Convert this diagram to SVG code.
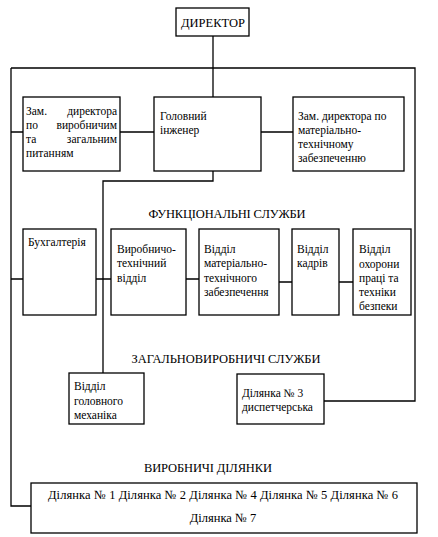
<svg xmlns="http://www.w3.org/2000/svg" width="438" height="537" viewBox="0 0 438 537">
<style>
rect{fill:#fff;stroke:#000;stroke-width:1.3}
#connectors path{fill:none;stroke:#000;stroke-width:1.3}
text{font-family:"Liberation Serif","Times New Roman","DejaVu Serif",serif;font-size:11.5px;fill:#000}
.h{font-size:12.5px;text-anchor:middle}
.e{text-anchor:end}
</style>
<rect x="0" y="0" width="438" height="537" style="stroke:none"/>
<g id="connectors">
<path d="M213 36V97"/>
<path d="M11 68H415V401H324"/>
<path d="M11 68V506H31"/>
<path d="M11 132H23M120 132H154M261 132H293"/>
<path d="M213 171V181H103V373"/>
<path d="M11 279H23M96 279H111M186 279H199M279 282H292M339 282H353"/>
</g>
<g id="director"><rect x="176" y="8" width="73" height="28"/><text class="h" x="213" y="27" textLength="64">ДИРЕКТОР</text></g>
<g id="zam1"><rect x="23" y="97" width="97" height="74"/>
<text x="26" y="115">Зам.</text><text class="e" x="117" y="115">директора</text>
<text x="26" y="129">по</text><text class="e" x="117" y="129">виробничим</text>
<text x="26" y="143">та</text><text class="e" x="117" y="143">загальним</text>
<text x="26" y="157">питанням</text></g>
<g id="engineer"><rect x="154" y="97" width="107" height="74"/>
<text x="160" y="120">Головний</text><text x="160" y="134">інженер</text></g>
<g id="zam2"><rect x="293" y="97" width="111" height="74"/>
<text x="298" y="120">Зам. директора по</text><text x="298" y="134">матеріально-</text><text x="298" y="148">технічному</text><text x="298" y="162">забезпеченню</text></g>
<text class="h" x="227" y="218" textLength="157">ФУНКЦІОНАЛЬНІ СЛУЖБИ</text>
<g id="buh"><rect x="23" y="229" width="73" height="86"/><text x="28" y="246">Бухгалтерія</text></g>
<g id="vtv"><rect x="111" y="229" width="75" height="86"/>
<text x="117" y="253">Виробничо-</text><text x="117" y="267">технічний</text><text x="117" y="282">відділ</text></g>
<g id="vmtz"><rect x="199" y="229" width="80" height="86"/>
<text x="204" y="253">Відділ</text><text x="204" y="267">матеріально-</text><text x="204" y="282">технічного</text><text x="204" y="296">забезпечення</text></g>
<g id="kadry"><rect x="292" y="229" width="47" height="86"/>
<text x="297" y="253">Відділ</text><text x="297" y="267">кадрів</text></g>
<g id="ohorona"><rect x="353" y="229" width="58" height="86"/>
<text x="359" y="253">Відділ</text><text x="359" y="268">охорони</text><text x="359" y="282">праці та</text><text x="359" y="296">техніки</text><text x="359" y="310">безпеки</text></g>
<text class="h" x="226" y="363" textLength="189">ЗАГАЛЬНОВИРОБНИЧІ СЛУЖБИ</text>
<g id="mehanik"><rect x="69" y="373" width="75" height="51"/>
<text x="74" y="390">Відділ</text><text x="74" y="405">головного</text><text x="74" y="419">механіка</text></g>
<g id="dil3"><rect x="237" y="374" width="87" height="50"/>
<text x="242" y="397">Ділянка № 3</text><text x="242" y="411">диспетчерська</text></g>
<text class="h" x="208" y="472" textLength="128">ВИРОБНИЧІ ДІЛЯНКИ</text>
<g id="dilyanky"><rect x="31" y="483" width="386" height="50"/>
<text class="h" x="223" y="499" textLength="350">Ділянка № 1 Ділянка № 2 Ділянка № 4 Ділянка № 5 Ділянка № 6</text>
<text class="h" x="223" y="522">Ділянка № 7</text></g>
</svg>
